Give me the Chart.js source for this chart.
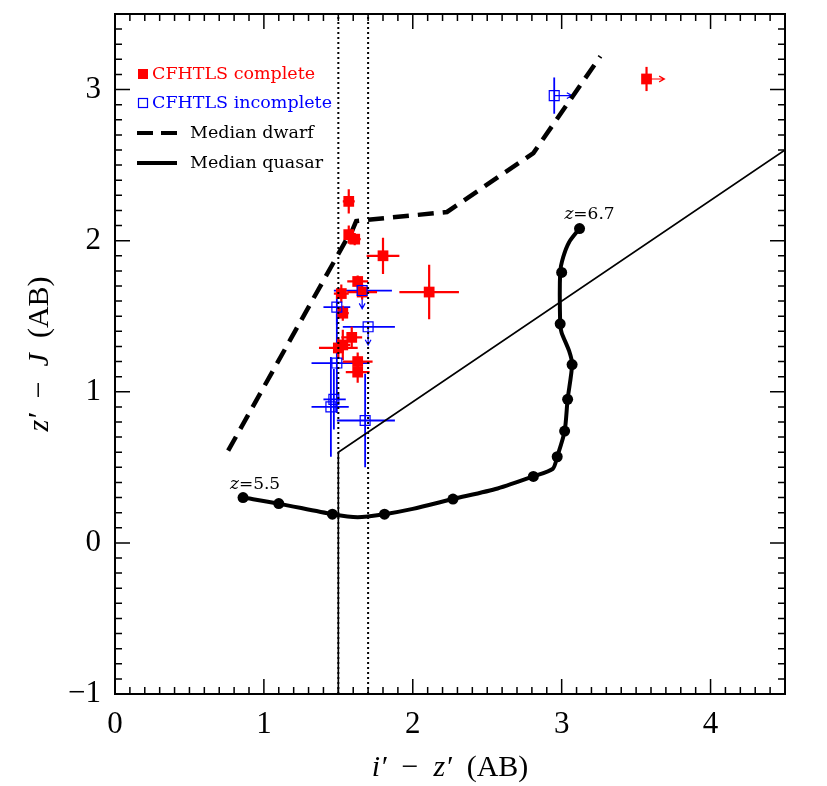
<!DOCTYPE html>
<html>
<head>
<meta charset="utf-8">
<script src="https://cdn.jsdelivr.net/npm/chart.js@4.4.0/dist/chart.umd.min.js"></script>
<style>
  body { margin: 0; background: #fff; }
  #wrap { width: 827px; height: 786px; position: relative; }
</style>
</head>
<body>
<div id="wrap"><canvas id="myChart"></canvas></div>
<script>
// axis ticks
var xTicks = [0, 1, 2, 3, 4];
var xTickLabels = ['0', '1', '2', '3', '4'];
var yTicks = [-1, 0, 1, 2, 3];
var yTickLabels = ['\u22121', '0', '1', '2', '3'];

// CFHTLS complete (red filled)
var compX    = [1.57, 1.57, 1.61, 1.80, 2.11, 1.63, 1.52, 1.66, 1.53, 1.59, 1.50, 1.53, 1.63, 1.63, 3.57];
var compY    = [2.26, 2.04, 2.01, 1.90, 1.66, 1.73, 1.65, 1.66, 1.52, 1.36, 1.29, 1.31, 1.20, 1.13, 3.07];
var compXErr = [0.04, 0.03, 0.04, 0.11, 0.20, 0.07, 0.05, 0.10, 0.04, 0.07, 0.13, 0.05, 0.10, 0.08, 0];
var compYErr = [0.08, 0.06, 0.04, 0.12, 0.18, 0.04, 0.06, 0.05, 0.05, 0.07, 0.07, 0.10, 0.06, 0.07, 0.08];
var compXLower = [0, 0, 0, 0, 0, 0, 0, 0, 0, 0, 0, 0, 0, 0, 1];

// CFHTLS incomplete (blue open)
var incX      = [2.95, 1.49, 1.66, 1.70, 1.49, 1.47, 1.45, 1.68];
var incY      = [2.96, 1.56, 1.67, 1.43, 1.19, 0.95, 0.90, 0.81];
var incXErrLo = [0,    0.09, 0.19, 0.17, 0.17, 0.07, 0.13, 0.19];
var incXErrHi = [0,    0.09, 0.20, 0.18, 0.22, 0.08, 0.12, 0.20];
var incYErr   = [0.12, 0.12, 0,    0,    0.33, 0.20, 0.33, 0.31];
var incXLower = [1, 0, 0, 0, 0, 0, 0, 0];
var incYUpper = [0, 0, 1, 1, 0, 0, 0, 0];

// median dwarf track
var dwarfX = [0.76, 1.55, 1.59, 1.62, 2.23, 2.81, 3.26];
var dwarfY = [0.61, 2.00, 2.06, 2.13, 2.19, 2.58, 3.22];

// median quasar track (line) and z = 5.5 ... 6.7 steps (dots)
var qsoPathX = [0.86, 1.10, 1.46, 1.63, 1.81, 2.00, 2.27, 2.57, 2.81, 2.94, 2.97, 3.02, 3.04, 3.07, 3.05, 3.00, 2.99, 2.99, 3.01, 3.05, 3.12];
var qsoPathY = [0.30, 0.26, 0.19, 0.17, 0.19, 0.225, 0.29, 0.36, 0.44, 0.49, 0.57, 0.74, 0.95, 1.18, 1.27, 1.39, 1.45, 1.79, 1.89, 1.99, 2.08];
var qsoDotX = [0.86, 1.10, 1.46, 1.81, 2.27, 2.81, 2.97, 3.02, 3.04, 3.07, 2.99, 3.00, 3.12];
var qsoDotY = [0.30, 0.26, 0.19, 0.19, 0.29, 0.44, 0.57, 0.74, 0.95, 1.18, 1.45, 1.79, 2.08];

// selection cuts
var cutX = [1.5, 1.5, 4.5];
var cutY = [-1, 0.6, 2.6];
var dotCutX = [1.5, 1.7];

function pts(xs, ys) {
	return xs.map(function(x, i) { return {x: x, y: ys[i]}; });
}

var RED = '#ff0000';
var BLUE = '#0000ff';
var SERIF = '"Liberation Serif", "DejaVu Serif", serif';
var LEG = '"DejaVu Serif", serif';

// error bars and limit arrows
var errorBars = {
	id: 'errorBars',
	beforeDatasetsDraw: function(chart) {
		var ctx = chart.ctx, xs = chart.scales.x, ys = chart.scales.y;
		function arrow(x1, y1, x2, y2) {
			var a = Math.atan2(y2 - y1, x2 - x1), h = 6;
			ctx.beginPath();
			ctx.moveTo(x1, y1); ctx.lineTo(x2, y2);
			ctx.moveTo(x2 - h * Math.cos(a - 0.5), y2 - h * Math.sin(a - 0.5));
			ctx.lineTo(x2, y2);
			ctx.lineTo(x2 - h * Math.cos(a + 0.5), y2 - h * Math.sin(a + 0.5));
			ctx.stroke();
		}
		ctx.save();
		ctx.lineCap = 'butt';
		// incomplete
		ctx.strokeStyle = BLUE;
		ctx.lineWidth = 1.8;
		incX.forEach(function(x, i) {
			var y = incY[i];
			var px = xs.getPixelForValue(x), py = ys.getPixelForValue(y);
			ctx.beginPath();
			if (incXErrLo[i] || incXErrHi[i]) {
				ctx.moveTo(xs.getPixelForValue(x - incXErrLo[i]), py);
				ctx.lineTo(xs.getPixelForValue(x + incXErrHi[i]), py);
			}
			if (incYErr[i]) {
				ctx.moveTo(px, ys.getPixelForValue(y - incYErr[i]));
				ctx.lineTo(px, ys.getPixelForValue(y + incYErr[i]));
			}
			ctx.stroke();
			ctx.lineWidth = 1.2;
			if (incXLower[i]) arrow(px, py, xs.getPixelForValue(x + 0.12), py);
			if (incYUpper[i]) arrow(px, py, px, ys.getPixelForValue(y - 0.12));
			ctx.lineWidth = 1.8;
		});
		// complete
		ctx.strokeStyle = RED;
		ctx.lineWidth = 2.2;
		compX.forEach(function(x, i) {
			var y = compY[i];
			var px = xs.getPixelForValue(x), py = ys.getPixelForValue(y);
			ctx.beginPath();
			if (compXErr[i]) {
				ctx.moveTo(xs.getPixelForValue(x - compXErr[i]), py);
				ctx.lineTo(xs.getPixelForValue(x + compXErr[i]), py);
			}
			if (compYErr[i]) {
				ctx.moveTo(px, ys.getPixelForValue(y - compYErr[i]));
				ctx.lineTo(px, ys.getPixelForValue(y + compYErr[i]));
			}
			ctx.stroke();
			if (compXLower[i]) {
				ctx.lineWidth = 1.2;
				arrow(px, py, xs.getPixelForValue(x + 0.12), py);
				ctx.lineWidth = 2.2;
			}
		});
		ctx.restore();
	}
};

// frame, inward ticks, labels, legend, annotations
var frame = {
	id: 'frame',
	afterDraw: function(chart) {
		var ctx = chart.ctx, xs = chart.scales.x, ys = chart.scales.y, a = chart.chartArea;
		ctx.save();
		ctx.strokeStyle = '#000';
		ctx.lineWidth = 2;
		ctx.strokeRect(a.left, a.top, a.right - a.left, a.bottom - a.top);
		ctx.lineWidth = 1.5;
		ctx.beginPath();
		for (var v = 0; v <= 45; v++) {
			var x = xs.getPixelForValue(v / 10), len = (v % 10 === 0) ? 15 : 7;
			ctx.moveTo(x, a.bottom); ctx.lineTo(x, a.bottom - len);
			ctx.moveTo(x, a.top); ctx.lineTo(x, a.top + len);
		}
		for (var w = -10; w <= 35; w++) {
			var y = ys.getPixelForValue(w / 10), l2 = (w % 10 === 0) ? 15 : 7;
			ctx.moveTo(a.left, y); ctx.lineTo(a.left + l2, y);
			ctx.moveTo(a.right, y); ctx.lineTo(a.right - l2, y);
		}
		ctx.stroke();

		// tick labels
		ctx.fillStyle = '#000';
		ctx.font = '31px ' + SERIF;
		ctx.textAlign = 'center';
		ctx.textBaseline = 'middle';
		xTicks.forEach(function(t, i) {
			ctx.fillText(xTickLabels[i], xs.getPixelForValue(t), a.bottom + 31);
		});
		ctx.textAlign = 'right';
		yTicks.forEach(function(t, i) {
			ctx.fillText(yTickLabels[i], a.left - 14, ys.getPixelForValue(t));
		});

		// axis titles with italic symbols
		function parts(list, cx, cy) {
			var total = 0;
			list.forEach(function(p) { ctx.font = p[1]; total += ctx.measureText(p[0]).width; });
			var x = cx - total / 2;
			ctx.textAlign = 'left';
			list.forEach(function(p) { ctx.font = p[1]; ctx.fillText(p[0], x, cy); x += ctx.measureText(p[0]).width; });
		}
		var it = 'italic 30px ' + SERIF, rm = '30px ' + SERIF;
		parts([['i\u2032', it], ['  \u2212  ', rm], ['z\u2032', it], ['  (AB)', rm]], (a.left + a.right) / 2, 768);
		ctx.save();
		ctx.translate(40, (a.top + a.bottom) / 2);
		ctx.rotate(-Math.PI / 2);
		parts([['z\u2032', it], ['  \u2212  ', rm], ['J', it], ['  (AB)', rm]], 0, 0);
		ctx.restore();

		// redshift labels on quasar track
		var n = qsoDotX.length - 1;
		parts([['z', 'italic 17px ' + LEG], ['=5.5', '17px ' + LEG]],
			xs.getPixelForValue(qsoDotX[0]) + 12, ys.getPixelForValue(qsoDotY[0]) - 13);
		parts([['z', 'italic 17px ' + LEG], ['=6.7', '17px ' + LEG]],
			xs.getPixelForValue(qsoDotX[n]) + 10, ys.getPixelForValue(qsoDotY[n]) - 14);

		// legend
		var lx = a.left + 22;
		ctx.textAlign = 'left';
		ctx.font = '17.5px ' + LEG;
		ctx.fillStyle = RED;
		ctx.fillRect(lx + 1, 69, 10, 10);
		ctx.fillText('CFHTLS complete', lx + 15, 74);
		ctx.strokeStyle = BLUE; ctx.lineWidth = 1.2;
		ctx.strokeRect(lx + 1.5, 98.5, 9, 9);
		ctx.fillStyle = BLUE;
		ctx.fillText('CFHTLS incomplete', lx + 15, 103);
		ctx.strokeStyle = '#000'; ctx.fillStyle = '#000'; ctx.lineWidth = 4;
		ctx.setLineDash([16, 8]);
		ctx.beginPath(); ctx.moveTo(lx, 133); ctx.lineTo(lx + 40, 133); ctx.stroke();
		ctx.setLineDash([]);
		ctx.beginPath(); ctx.moveTo(lx, 163); ctx.lineTo(lx + 40, 163); ctx.stroke();
		ctx.fillText('Median dwarf', lx + 53, 133);
		ctx.fillText('Median quasar', lx + 53, 163);
		ctx.restore();
	}
};

var ctx = document.getElementById('myChart').getContext('2d');
var myChart = new Chart(ctx, {
	type: 'scatter',
	data: {
		datasets: [
			{ label: 'dot1', data: pts([dotCutX[0], dotCutX[0]], [-1, 3.5]), showLine: true, borderColor: '#000', borderWidth: 2, borderDash: [2, 3], pointRadius: 0 },
			{ label: 'dot2', data: pts([dotCutX[1], dotCutX[1]], [-1, 3.5]), showLine: true, borderColor: '#000', borderWidth: 2, borderDash: [2, 3], pointRadius: 0 },
			{ label: 'cut', data: pts(cutX, cutY), showLine: true, borderColor: '#000', borderWidth: 1.6, pointRadius: 0 },
			{ label: 'CFHTLS incomplete', data: pts(incX, incY), pointStyle: 'rect', pointRadius: 7, borderColor: BLUE, borderWidth: 1.2, backgroundColor: 'rgba(0,0,0,0)' },
			{ label: 'CFHTLS complete', data: pts(compX, compY), pointStyle: 'rect', pointRadius: 7.6, borderColor: RED, borderWidth: 0, backgroundColor: RED },
			{ label: 'Median quasar', data: pts(qsoPathX, qsoPathY), showLine: true, tension: 0.25, borderColor: '#000', borderWidth: 4, pointRadius: 0 },
			{ label: 'quasar z', data: pts(qsoDotX, qsoDotY), pointRadius: 5.5, backgroundColor: '#000', borderColor: '#000', borderWidth: 0 },
			{ label: 'Median dwarf', data: pts(dwarfX, dwarfY), showLine: true, borderColor: '#000', borderWidth: 4.5, borderDash: [16, 9], pointRadius: 0 }
		]
	},
	options: {
		responsive: true,
		maintainAspectRatio: false,
		animation: false,
		layout: { padding: { top: 14, right: 42, left: 0, bottom: 0 } },
		plugins: { legend: { display: false }, tooltip: { enabled: false } },
		scales: {
			x: {
				type: 'linear', min: 0, max: 4.5,
				ticks: { display: false },
				grid: { display: false },
				border: { display: false },
				afterFit: function(scale) { scale.height = 92; }
			},
			y: {
				type: 'linear', min: -1, max: 3.5,
				ticks: { display: false },
				grid: { display: false },
				border: { display: false },
				afterFit: function(scale) { scale.width = 115; }
			}
		}
	},
	plugins: [errorBars, frame]
});
</script>
</body>
</html>
